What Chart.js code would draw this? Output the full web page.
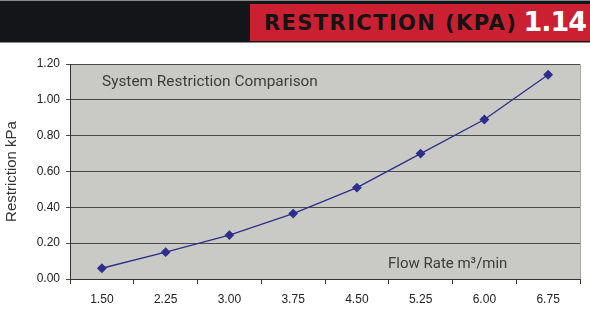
<!DOCTYPE html>
<html>
<head>
<meta charset="utf-8">
<script src="https://cdn.jsdelivr.net/npm/chart.js@4"></script>
<style>
  html, body { margin: 0; padding: 0; background: #fff; }
  body { width: 590px; height: 324px; position: relative; overflow: hidden; font-family: "Liberation Sans", Arial, sans-serif; }
  #cabecera { position: absolute; left: 0; top: 0; width: 590px; height: 43px; background: #141519; border-top: 1px solid #8a8a8a; border-bottom: 1px solid #8a8a8a; box-sizing: border-box; }
  #caja { position: absolute; left: 250px; top: 3px; width: 340px; height: 37px; background: #cb1f32; }
  #titulo { position: absolute; left: 14px; top: 8px; font-family: "DejaVu Sans", sans-serif; font-weight: bold; font-size: 21px; line-height: 22px; color: #141414; letter-spacing: 1.4px; }
  #valor { position: absolute; right: 4px; top: 2px; font-family: "DejaVu Sans", sans-serif; font-weight: bold; font-size: 27px; line-height: 32px; color: #fff; letter-spacing: -1px; }
  #contenedor { position: absolute; left: 0; top: 44px; width: 590px; height: 280px; }
</style>
</head>
<body>
<div id="cabecera">
  <div id="caja">
    <span id="titulo">RESTRICTION (KPA)</span>
    <span id="valor">1.14</span>
  </div>
</div>
<div id="contenedor"><canvas id="grafica"></canvas></div>
<script>
(function () {

    const caudales = ['1.50', '2.25', '3.00', '3.75', '4.50', '5.25', '6.00', '6.75'];
    const restriccion = [0.06, 0.15, 0.245, 0.365, 0.51, 0.70, 0.89, 1.14];
    const tituloEje = 'Restriction kPa';
    const rotulo = 'System Restriction Comparison';
    const rotuloCaudal = 'Flow Rate m³/min';

    // fondo gris del area y borde claro arriba/derecha
    const fondo = {
        id: 'fondo',
        beforeDraw(chart) {
            const { ctx, chartArea: a } = chart;
            ctx.save();
            ctx.fillStyle = '#c9c9c5';
            ctx.fillRect(a.left, a.top, a.right - a.left, a.bottom - a.top);
            ctx.strokeStyle = '#a9a9a6';
            ctx.lineWidth = 1;
            ctx.beginPath();
            ctx.moveTo(a.left, a.top + 0.5);
            ctx.lineTo(a.right + 0.5, a.top + 0.5);
            ctx.lineTo(a.right + 0.5, a.bottom);
            ctx.stroke();
            ctx.restore();
        },
        afterDatasetsDraw(chart) {
            const { ctx } = chart;
            ctx.save();
            ctx.fillStyle = '#3c3c3c';
            ctx.textBaseline = 'middle';
            ctx.font = '15.4px Roboto, "Liberation Sans", sans-serif';
            ctx.fillText(rotulo, 102, 38);
            ctx.font = '15px Roboto, "Liberation Sans", sans-serif';
            ctx.fillText(rotuloCaudal, 388, 220);
            ctx.restore();
        }
    };

    const ctx = document.getElementById('grafica').getContext('2d');

    new Chart(ctx, {
        type: 'line',
        data: {
            labels: caudales,
            datasets: [{
                data: restriccion,
                borderColor: '#2e2e8c',
                backgroundColor: '#2e2e8c',
                borderWidth: 1.3,
                pointStyle: 'rectRot',
                pointRadius: 4,
                pointHoverRadius: 4,
                tension: 0
            }]
        },
        options: {
            responsive: true,
            maintainAspectRatio: false,
            animation: false,
            layout: { padding: { top: 20, right: 10, left: 0, bottom: 0 } },
            scales: {
                x: {
                    offset: true,
                    grid: { offset: true, drawOnChartArea: false, drawTicks: true, tickLength: 5, color: '#333' },
                    border: { color: '#333', width: 1 },
                    ticks: { color: '#222', font: { size: 12, family: '"Liberation Sans", Arial' }, padding: 8 },
                    afterFit(s) { s.height = 45; }
                },
                y: {
                    min: 0,
                    max: 1.2,
                    ticks: {
                        stepSize: 0.2,
                        color: '#222',
                        font: { size: 12, family: '"Liberation Sans", Arial' },
                        padding: 6,
                        callback: v => v.toFixed(2)
                    },
                    grid: { color: '#4a4a4a', tickLength: 4, lineWidth: 1 },
                    border: { color: '#333', width: 1 },
                    title: {
                        display: true,
                        text: tituloEje,
                        color: '#333',
                        font: { size: 15, family: '"Liberation Sans", Arial' },
                        padding: { top: 3, bottom: 4 }
                    },
                    afterFit(s) { s.width = 70; }
                }
            },
            plugins: {
                legend: { display: false },
                tooltip: { enabled: false }
            }
        },
        plugins: [fondo]
    });

})();
</script>
</body>
</html>
